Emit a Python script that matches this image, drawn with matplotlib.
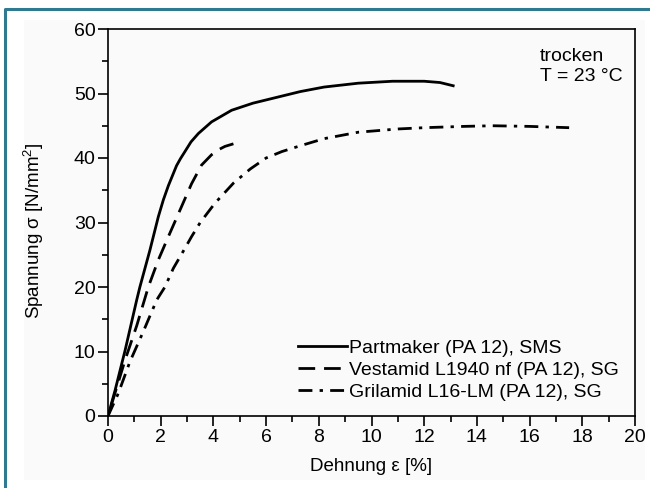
import matplotlib
matplotlib.use("Agg")
import matplotlib.pyplot as plt
from matplotlib.patches import Rectangle
from matplotlib.lines import Line2D

# stress-strain curves: strain [%], stress [N/mm2]
partmaker_x = [0, 0.27, 0.65, 1.09, 1.21, 1.59, 1.91, 2.1, 2.29, 2.42, 2.6, 2.75, 2.92, 3.15, 3.43, 3.93,
               4.69, 5.5, 6.5, 7.3, 8.2, 9.5, 10.8, 12.0, 12.6, 13.1]
partmaker_y = [0, 4.0, 10.2, 18.0, 20.0, 25.7, 30.9, 33.5, 35.7, 37.0, 38.8, 39.9, 41.0, 42.5, 43.8, 45.6,
               47.4, 48.5, 49.5, 50.3, 51.0, 51.6, 51.9, 51.9, 51.7, 51.2]

vestamid_x = [0, 0.65, 1.09, 1.53, 1.91, 2.29, 2.73, 3.17, 3.55, 3.93, 4.2, 4.44, 4.76]
vestamid_y = [0, 8.7, 14.0, 20.0, 24.2, 27.8, 31.9, 36.0, 38.9, 40.5, 41.3, 41.8, 42.2]

grilamid_x = [0, 0.39, 0.83, 1.34, 1.85, 2.16, 2.48, 2.92, 3.17, 3.5, 4.06, 4.76, 5.4, 6.0, 6.6,
              7.3, 8.2, 9.5, 11.0, 12.0, 13.5, 14.6, 16.0, 17.5]
grilamid_y = [0, 3.5, 8.4, 13.1, 18.0, 20.0, 22.9, 26.0, 27.8, 30.0, 33.0, 36.1, 38.3, 40.0, 41.0,
              41.9, 43.0, 44.0, 44.5, 44.7, 44.9, 45.0, 44.9, 44.7]

labels = ["Partmaker (PA 12), SMS",
          "Vestamid L1940 nf (PA 12), SG",
          "Grilamid L16-LM (PA 12), SG"]

plt.rcParams["font.family"] = ["Liberation Sans", "DejaVu Sans"]
plt.rcParams["mathtext.fontset"] = "custom"
plt.rcParams["mathtext.rm"] = "Liberation Sans"
plt.rcParams["font.size"] = 14

fig = plt.figure(figsize=(6.5, 4.88), dpi=100)
fig.patch.set_facecolor("white")

# pale panel and teal frame around the chart
fig.add_artist(Rectangle((24 / 650, 1 - 480 / 488), 621 / 650, 460 / 488,
                         transform=fig.transFigure, facecolor="#fafafa", edgecolor="none", zorder=0))
fig.add_artist(Line2D([5 / 650, 5 / 650, 1], [0, 1 - 9 / 488, 1 - 9 / 488],
                      transform=fig.transFigure, color="#2f7a90", lw=2.2, zorder=1))

ax = fig.add_axes([108 / 650, 1 - 416 / 488, 527 / 650, 387 / 488])
ax.set_facecolor("#fafafa")

dash = (6, 3.2)
ax.plot(partmaker_x, partmaker_y, color="black", lw=2.0, ls="-", label=labels[0])
ax.plot(vestamid_x, vestamid_y, color="black", lw=2.0, ls=(5, dash), label=labels[1])
ax.plot(grilamid_x, grilamid_y, color="black", lw=2.0, ls=(0, (5, 2.6, 1.2, 2.6)), label=labels[2])

ax.set_xlim(0, 20)
ax.set_ylim(0, 60)
ax.set_xticks(range(0, 21, 2))
ax.set_xticks(range(1, 20, 2), minor=True)
ax.set_yticks(range(0, 61, 10))
ax.set_yticks(range(5, 60, 10), minor=True)
ax.tick_params(which="major", direction="out", length=7, width=1.2, pad=2)
ax.tick_params(which="minor", direction="out", length=4, width=1.2)
for s in ax.spines.values():
    s.set_linewidth(1.2)

ax.set_xlabel("Dehnung ε [%]", fontsize=13.5)
ax.xaxis.set_label_coords(0.5, -0.108)
ax.set_ylabel(r"Spannung σ [N/mm$^\mathregular{2}$]", fontsize=13.5)
ax.yaxis.set_label_coords(-0.118, 0.48)

ax.text(0.82, 0.952, "trocken\nT = 23 °C", transform=ax.transAxes,
        ha="left", va="top", fontsize=14, linespacing=1.25)

leg = ax.legend(loc="lower left", bbox_to_anchor=(0.36, 0.04), frameon=False,
                handlelength=2.55, handletextpad=0.1, labelspacing=0.22,
                borderaxespad=0, borderpad=0, fontsize=14)
# legend sample should start with a full dash
leg.legend_handles[1].set_linestyle((0, dash))

fig.savefig("out.png", dpi=100)
